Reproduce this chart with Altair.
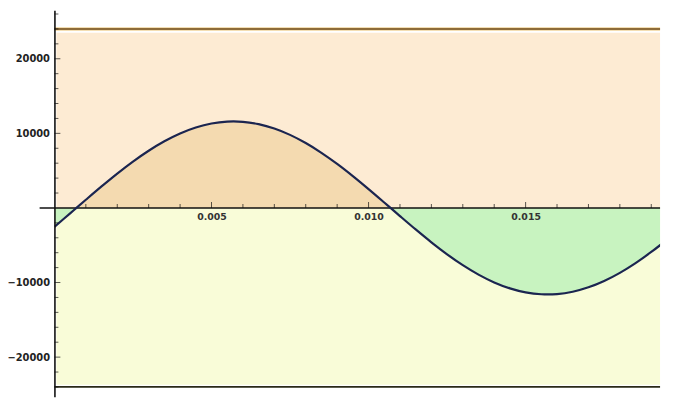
import altair as alt
import pandas as pd

# Curve readings (time in s, value)
T = [0.0, 0.0005, 0.0007, 0.001, 0.0015, 0.002, 0.0025, 0.003, 0.0035, 0.004, 0.0045,
     0.005, 0.0055, 0.006, 0.0065, 0.007, 0.0075, 0.008, 0.0085, 0.009, 0.0095,
     0.010, 0.0105, 0.0107, 0.011, 0.0115, 0.012, 0.0125, 0.013, 0.0135, 0.014,
     0.0145, 0.015, 0.0155, 0.016, 0.0165, 0.017, 0.0175, 0.018, 0.0185, 0.019, 0.0195]
V = [-2530, -728, 0, 1092, 2885, 4607, 6215, 7671, 8938, 9984, 10786,
     11321, 11577, 11549, 11236, 10646, 9794, 8701, 7394, 5904, 4270,
     2530, 728, 0, -1092, -2885, -4607, -6215, -7671, -8938, -9984,
     -10786, -11321, -11577, -11549, -11236, -10646, -9794, -8701, -7394, -5904, -4270]

TOP_LIMIT = [24000]
BOTTOM_LIMIT = [-24000]
UPPER_BAND = [0, 23500]
LOWER_BAND = [0, -23700]

X_LABELS = [0.005, 0.010, 0.015]
X_MAJOR_TICKS = [0.005, 0.010, 0.015]
X_MINOR_TICKS = [0.001, 0.002, 0.003, 0.004, 0.006, 0.007, 0.008, 0.009, 0.011,
                 0.012, 0.013, 0.014, 0.016, 0.017, 0.018, 0.019]
Y_LABELS = [-20000, -10000, 10000, 20000]
Y_MAJOR_TICKS = [-20000, -10000, 10000, 20000]
Y_MINOR_TICKS = [-26000, -24000, -22000, -18000, -16000, -14000, -12000, -8000, -6000,
                 -4000, -2000, 2000, 4000, 6000, 8000, 12000, 14000, 16000, 18000,
                 22000, 24000, 26000]

W, H = 613, 391
ZERO_PX = 200

xs = alt.Scale(domain=[0, 0.01928], nice=False, zero=False)
ys = alt.Scale(domain=[-25300, 26490], nice=False, zero=False)

FONT = "DejaVu Sans"
xaxis = alt.Axis(values=X_LABELS, format=".3f", ticks=False, grid=False, domain=False,
                 labelPadding=4, offset=-(H - ZERO_PX), title=None, labelFont=FONT,
                 labelFontSize=9.5, labelFontWeight="bold", labelColor="#333", zindex=2)
yaxis = alt.Axis(values=Y_LABELS, format="d", ticks=False, grid=False, domain=True,
                 domainColor="#111", domainWidth=1.6, labelPadding=5, title=None,
                 labelFont=FONT, labelFontSize=10, labelFontWeight="bold", labelColor="#222",
                 zindex=2)

df = pd.DataFrame({"t": T, "v": V})
INTERP = "catmull-rom"


def X(field="t:Q"):
    return alt.X(field, scale=xs, axis=xaxis)


def Y(field="v:Q"):
    return alt.Y(field, scale=ys, axis=yaxis)


up_bg = alt.Chart(pd.DataFrame({"v": [UPPER_BAND[0]], "v2": [UPPER_BAND[1]]})).mark_rect(
    color="#fdebd3").encode(x=alt.value(2), x2=alt.value(W), y=Y(), y2="v2:Q")
lo_bg = alt.Chart(pd.DataFrame({"v": [LOWER_BAND[0]], "v2": [LOWER_BAND[1]]})).mark_rect(
    color="#f9fcd8").encode(x=alt.value(2), x2=alt.value(W), y=Y(), y2="v2:Q")

pos_area = alt.Chart(df).transform_calculate(p="max(datum.v, 0)").mark_area(
    interpolate=INTERP, color="#f4dab0", clip=True).encode(
    x=X(), y=Y("p:Q"), y2=alt.Y2Datum(0))
neg_area = alt.Chart(df).transform_calculate(n="min(datum.v, 0)").mark_area(
    interpolate=INTERP, color="#c8f3c0", clip=True).encode(
    x=X(), y=Y("n:Q"), y2=alt.Y2Datum(0))

top_glow = alt.Chart(pd.DataFrame({"v": TOP_LIMIT})).mark_rule(
    color="#efd39a", strokeWidth=3.5).encode(y=Y(), x=alt.value(0), x2=alt.value(W))
top_line = alt.Chart(pd.DataFrame({"v": TOP_LIMIT})).mark_rule(
    color="#6e4a18", strokeWidth=1.5).encode(y=Y(), x=alt.value(0), x2=alt.value(W))
bot_line = alt.Chart(pd.DataFrame({"v": BOTTOM_LIMIT})).mark_rule(
    color="#2a2a18", strokeWidth=1.8).encode(y=Y(), x=alt.value(0), x2=alt.value(W))

x_axis_line = alt.Chart(pd.DataFrame({"v": [0]})).mark_rule(
    color="#111", strokeWidth=1.6).encode(y=Y(), x=alt.value(-15), x2=alt.value(W))

curve = alt.Chart(df).mark_line(interpolate=INTERP, color="#1b2550",
                                strokeWidth=2.2, clip=True).encode(x=X(), y=Y())

xt_major = alt.Chart(pd.DataFrame({"t": X_MAJOR_TICKS})).mark_tick(
    orient="vertical", size=6, thickness=1, yOffset=-3, color="#111").encode(
    x=X(), y=alt.YDatum(0, scale=ys, axis=yaxis))
xt_minor = alt.Chart(pd.DataFrame({"t": X_MINOR_TICKS})).mark_tick(
    orient="vertical", size=4, thickness=1, yOffset=-2, color="#111").encode(
    x=X(), y=alt.YDatum(0, scale=ys, axis=yaxis))
yt_major = alt.Chart(pd.DataFrame({"v": Y_MAJOR_TICKS})).mark_tick(
    orient="horizontal", size=6, thickness=1, xOffset=3, color="#111").encode(
    y=Y(), x=alt.value(0))
yt_minor = alt.Chart(pd.DataFrame({"v": Y_MINOR_TICKS})).mark_tick(
    orient="horizontal", size=4, thickness=1, xOffset=2, color="#111").encode(
    y=Y(), x=alt.value(0))

chart = alt.layer(
    up_bg, lo_bg, pos_area, neg_area, top_glow, top_line, bot_line,
    x_axis_line, curve, xt_major, xt_minor, yt_major, yt_minor
).properties(
    width=W, height=H,
    autosize=alt.AutoSizeParams(type="none"),
    padding={"left": 47, "top": 0, "right": 5, "bottom": 0},
    background="white",
).configure_view(stroke=None)

chart.save("out.html", embed_options={"renderer": "svg", "actions": False})
